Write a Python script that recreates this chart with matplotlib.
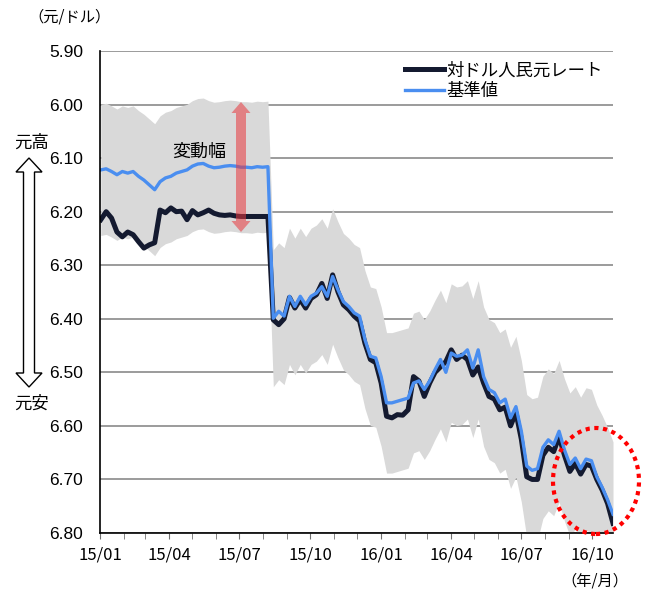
import matplotlib
matplotlib.use("Agg")
import matplotlib.pyplot as plt
import matplotlib.dates as mdates
from matplotlib.patches import Ellipse, Polygon
import numpy as np
import pandas as pd

plt.rcParams['font.family'] = ['Noto Sans CJK JP', 'DejaVu Sans']

# weekly closes (Fridays), Jan 2015 - Oct 2016
dates = pd.date_range('2015-01-02', '2016-10-28', freq='W-FRI')

# CNY per USD, market rate
rate = [6.215, 6.200, 6.212, 6.238, 6.247, 6.238, 6.243, 6.256, 6.268, 6.262,
        6.258, 6.197, 6.202, 6.193, 6.200, 6.199, 6.215, 6.198, 6.206, 6.202,
        6.197, 6.203, 6.206, 6.207, 6.206, 6.208, 6.209, 6.209, 6.209, 6.209,
        6.209, 6.209, 6.402, 6.411, 6.400, 6.360, 6.380, 6.364, 6.380, 6.362,
        6.355, 6.334, 6.362, 6.318, 6.350, 6.374, 6.383, 6.395, 6.404, 6.446,
        6.476, 6.482, 6.520, 6.582, 6.585, 6.579, 6.580, 6.570, 6.508, 6.516,
        6.545, 6.520, 6.500, 6.490, 6.480, 6.458, 6.476, 6.468, 6.476, 6.505,
        6.490, 6.520, 6.545, 6.550, 6.570, 6.565, 6.600, 6.575, 6.625, 6.695,
        6.700, 6.700, 6.655, 6.640, 6.648, 6.620, 6.655, 6.685, 6.670, 6.690,
        6.672, 6.675, 6.700, 6.720, 6.745, 6.782]

# PBoC central parity (fixing)
fixing = [6.122, 6.120, 6.125, 6.131, 6.125, 6.128, 6.125, 6.134, 6.141, 6.150,
          6.159, 6.144, 6.137, 6.134, 6.128, 6.125, 6.122, 6.115, 6.111, 6.110,
          6.115, 6.118, 6.117, 6.115, 6.114, 6.115, 6.117, 6.117, 6.118, 6.116,
          6.117, 6.116, 6.399, 6.386, 6.395, 6.358, 6.377, 6.358, 6.374, 6.358,
          6.352, 6.340, 6.358, 6.321, 6.346, 6.368, 6.377, 6.389, 6.395, 6.439,
          6.470, 6.473, 6.508, 6.557, 6.557, 6.554, 6.551, 6.548, 6.520, 6.516,
          6.532, 6.516, 6.495, 6.476, 6.500, 6.464, 6.470, 6.468, 6.458, 6.492,
          6.458, 6.508, 6.532, 6.538, 6.557, 6.550, 6.585, 6.564, 6.610, 6.675,
          6.683, 6.680, 6.640, 6.626, 6.635, 6.610, 6.645, 6.672, 6.660, 6.680,
          6.662, 6.665, 6.695, 6.715, 6.738, 6.765]

band = 0.02  # daily trading band around the fixing
yticks = [5.90, 6.00, 6.10, 6.20, 6.30, 6.40, 6.50, 6.60, 6.70, 6.80]

W, H = 651, 596


def fig_xy(x, y):
    # pixel position (from top-left) -> figure fraction
    return (x / W, 1 - y / H)


fig = plt.figure(figsize=(W / 100, H / 100), dpi=100)
ax = fig.add_axes([100 / W, 63 / H, 513 / W, 482 / H])

fix = np.array(fixing)
ax.fill_between(dates, fix * (1 - band), fix * (1 + band), color='#d9d9d9', lw=0, zorder=1)
ax.plot(dates, rate, color='#141a30', lw=3.6, solid_joinstyle='round', zorder=3,
        label='対ドル人民元レート')
ax.plot(dates, fixing, color='#4a8ef0', lw=2.4, solid_joinstyle='round', zorder=4,
        label='基準値')

ax.set_ylim(6.80, 5.90)
ax.set_yticks(yticks)
ax.set_yticklabels([f'{v:.2f}' for v in yticks], family='Liberation Sans', fontsize=12.5)
ax.yaxis.grid(True, color='#8a8a8a', lw=1.2, zorder=0)
ax.set_axisbelow(True)
ax.tick_params(axis='y', length=0, pad=12)

ax.set_xlim(pd.Timestamp('2015-01-01'), pd.Timestamp('2016-10-28'))
ax.xaxis.set_major_locator(mdates.MonthLocator(bymonth=[1, 4, 7, 10]))
ax.xaxis.set_minor_locator(mdates.MonthLocator())
ax.xaxis.set_major_formatter(mdates.DateFormatter('%y/%m'))
ax.tick_params(axis='x', which='both', length=4, color='#707070', direction='out',
               labelsize=12, pad=6)

for s in ['top', 'right']:
    ax.spines[s].set_visible(False)
for s in ['left', 'bottom']:
    ax.spines[s].set_color('black')
    ax.spines[s].set_linewidth(1.2)
    ax.spines[s].set_zorder(5)

ax.legend(loc='upper right', bbox_to_anchor=(1.0, 1.0), frameon=False, fontsize=12.5,
          handlelength=2.3, handletextpad=0.1, labelspacing=0.15, borderaxespad=0.2)

# units
fig.text(*fig_xy(28, 17), '（元/ドル）', fontsize=11, va='center', ha='left')
fig.text(*fig_xy(628, 581), '（年/月）', fontsize=11, va='center', ha='right')

# 元高 / 元安 direction marker
fig.text(*fig_xy(14, 143), '元高', fontsize=12.5, va='center', ha='left')
fig.text(*fig_xy(14, 404), '元安', fontsize=12.5, va='center', ha='left')
cx, top, bot, hw, sw, hl = 29, 158, 387, 13, 5.5, 14
updown = [(cx, top), (cx + hw, top + hl), (cx + sw, top + hl), (cx + sw, bot - hl),
          (cx + hw, bot - hl), (cx, bot), (cx - hw, bot - hl), (cx - sw, bot - hl),
          (cx - sw, top + hl), (cx - hw, top + hl)]
fig.add_artist(Polygon([fig_xy(*p) for p in updown], closed=True, facecolor='white',
                       edgecolor='black', lw=1.0, transform=fig.transFigure))

# trading band marker
fig.text(*fig_xy(199, 152), '変動幅', fontsize=13, va='center', ha='center')
cx, top, bot, hw, sw, hl = 241, 102, 232, 9.5, 5, 11
twoway = [(cx, top), (cx + hw, top + hl), (cx + sw, top + hl), (cx + sw, bot - hl),
          (cx + hw, bot - hl), (cx, bot), (cx - hw, bot - hl), (cx - sw, bot - hl),
          (cx - sw, top + hl), (cx - hw, top + hl)]
fig.add_artist(Polygon([fig_xy(*p) for p in twoway], closed=True, facecolor='#e8383d',
                       alpha=0.55, lw=0, transform=fig.transFigure, zorder=6))

# recent depreciation highlight
fig.add_artist(Ellipse(fig_xy(596, 481), 86 / W, 106 / H, fill=False, edgecolor='#ff0000',
                       lw=3, linestyle=(0, (1, 1.1)), transform=fig.transFigure, zorder=6))

fig.savefig('out.png', dpi=100)
